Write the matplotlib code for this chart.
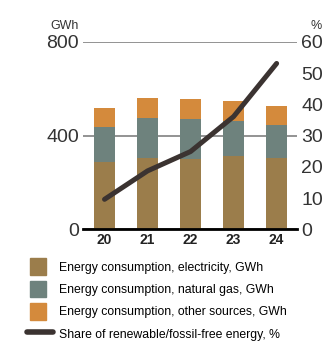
import numpy as np
import matplotlib
matplotlib.use("Agg")
import matplotlib.pyplot as plt
from matplotlib.patches import Patch, Rectangle
from matplotlib.lines import Line2D
from matplotlib.legend_handler import HandlerPatch

plt.rcParams['font.family'] = ['Liberation Sans', 'DejaVu Sans']

years = ["20", "21", "22", "23", "24"]
electricity = [287, 306, 298, 315, 306]
natural_gas = [150, 171, 173, 148, 140]
other = [81, 84, 86, 85, 81]
renewable_share = [9.6, 18.7, 24.9, 36.1, 53.1]

c_el = "#9b7d4b"
c_gas = "#6e827d"
c_oth = "#d48a3c"
c_line = "#3b3331"

fig = plt.figure(figsize=(3.23, 3.42), dpi=100)
ax = fig.add_axes([0.257, 0.3295, 0.662, 0.548])
x = np.arange(len(years))
w = 0.49

ax.bar(x, electricity, w, color=c_el, zorder=2)
ax.bar(x, natural_gas, w, bottom=electricity, color=c_gas, zorder=2)
bottom2 = np.array(electricity) + np.array(natural_gas)
ax.bar(x, other, w, bottom=bottom2, color=c_oth, zorder=2)

ax.set_ylim(0, 800)
ax.set_xlim(-0.5, 4.47)
ax.set_yticks([0, 400, 800])
ax.grid(axis="y", color="#8a8a8a", lw=1.3, zorder=0)
for s in ["top", "left", "right"]:
    ax.spines[s].set_visible(False)
ax.spines["bottom"].set_linewidth(2)
ax.spines["bottom"].set_zorder(3)
ax.tick_params(axis="y", length=0, pad=3, labelsize=14, labelcolor="#333333")
ax.tick_params(axis="x", length=0, pad=3)
ax.set_xticks(x)
ax.set_xticklabels(years, fontsize=10, fontweight="bold", color="#222222")

ax2 = ax.twinx()
ax2.plot(x, renewable_share, color=c_line, lw=3.6, solid_capstyle="round", zorder=4)
ax2.set_ylim(0, 60)
ax2.set_yticks(range(0, 61, 10))
for s in ["top", "left", "right", "bottom"]:
    ax2.spines[s].set_visible(False)
ax2.tick_params(axis="y", length=0, pad=3, labelsize=14, labelcolor="#333333")

fig.text(0.245, 0.905, "GWh", ha="right", va="bottom", fontsize=9, color="#333333")
fig.text(0.995, 0.905, "%", ha="right", va="bottom", fontsize=9, color="#333333")


# square swatches, narrower than the line handle
def square(legend, orig_handle, xdescent, ydescent, width, height, fontsize):
    side = 12
    return Rectangle((-xdescent + 1.5, -ydescent + (height - side) / 2), side, side)


handles = [
    Patch(color=c_el, label="Energy consumption, electricity, GWh"),
    Patch(color=c_gas, label="Energy consumption, natural gas, GWh"),
    Patch(color=c_oth, label="Energy consumption, other sources, GWh"),
    Line2D([], [], color=c_line, lw=4, solid_capstyle="round",
           label="Share of renewable/fossil-free energy, %"),
]
fig.legend(handles=handles, loc="upper left", bbox_to_anchor=(0.085, 0.24),
           frameon=False, fontsize=8.8, handlelength=2.05, handleheight=1.3,
           handletextpad=0.5, labelspacing=0.7, borderaxespad=0, borderpad=0,
           handler_map={Patch: HandlerPatch(patch_func=square)})

fig.savefig("out.png", dpi=100)
